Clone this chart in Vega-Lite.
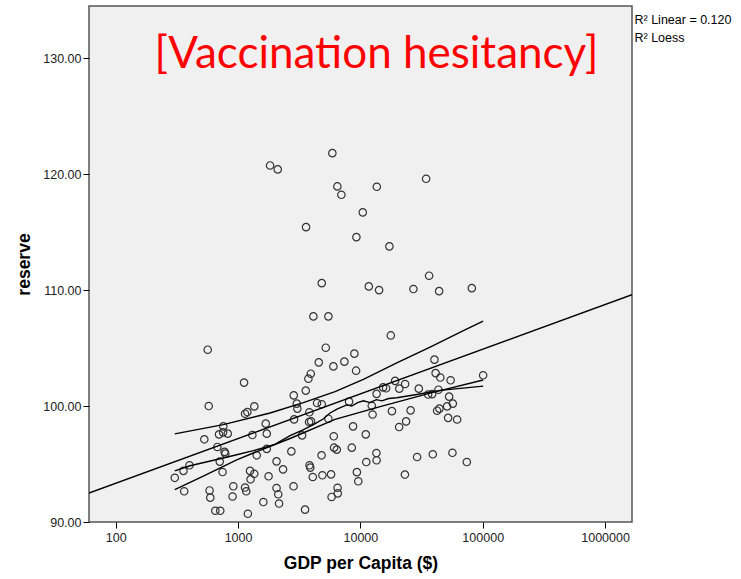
{
  "$schema": "https://vega.github.io/schema/vega-lite/v6.json",
  "width": 543,
  "height": 516,
  "autosize": "none",
  "padding": {"left": 89, "top": 6, "right": 109, "bottom": 57},
  "background": "#ffffff",
  "title": {"text": "[Vaccination hesitancy]", "color": "#ff0000", "font": "Lato", "fontSize": 44, "fontWeight": "normal", "anchor": "middle", "dx": 16, "offset": -106, "baseline": "alphabetic"},
  "config": {
    "view": {"fill": "#f0f0f0", "stroke": "#555555", "strokeWidth": 1.5},
    "axis": {"grid": false, "domain": false, "tickColor": "#000000", "tickSize": 6, "labelFont": "Liberation Sans", "labelFontSize": 12.5, "labelColor": "#222222", "labelFlush": false, "labelOverlap": false, "titleFont": "Liberation Sans", "titleFontSize": 17.5, "titleFontWeight": "bold", "titleColor": "#000000"}
  },
  "datasets": {
    "points": [
      {"gdp":5900,"reserve":121.81},{"gdp":1827,"reserve":120.75},{"gdp":2111,"reserve":120.41},{"gdp":6484,"reserve":118.94},{"gdp":6992,"reserve":118.22},{"gdp":13620,"reserve":118.91},{"gdp":34450,"reserve":119.6},{"gdp":10460,"reserve":116.7},{"gdp":3597,"reserve":115.43},{"gdp":9275,"reserve":114.57},{"gdp":17270,"reserve":113.77},{"gdp":4834,"reserve":110.6},{"gdp":11720,"reserve":110.32},{"gdp":14220,"reserve":110.0},{"gdp":27130,"reserve":110.09},{"gdp":36450,"reserve":111.24},{"gdp":44000,"reserve":109.91},{"gdp":81450,"reserve":110.17},
      {"gdp":4128,"reserve":107.73},{"gdp":5475,"reserve":107.73},{"gdp":565,"reserve":104.86},{"gdp":5213,"reserve":105.03},{"gdp":4568,"reserve":103.77},{"gdp":7400,"reserve":103.83},{"gdp":8930,"reserve":104.52},{"gdp":6015,"reserve":103.42},{"gdp":9222,"reserve":103.05},{"gdp":1120,"reserve":102.02},{"gdp":3930,"reserve":102.79},{"gdp":3757,"reserve":102.36},{"gdp":3577,"reserve":101.33},{"gdp":2853,"reserve":100.92},{"gdp":576,"reserve":100.0},{"gdp":1141,"reserve":99.34},{"gdp":1191,"reserve":99.48},{"gdp":1359,"reserve":99.97},{"gdp":3020,"reserve":100.21},{"gdp":3054,"reserve":99.78},{"gdp":4425,"reserve":100.26},{"gdp":4834,"reserve":100.15},{"gdp":8083,"reserve":100.38},{"gdp":3828,"reserve":99.46},{"gdp":5475,"reserve":98.91},{"gdp":2870,"reserve":98.85},{"gdp":3807,"reserve":98.62},{"gdp":3953,"reserve":98.68},{"gdp":758,"reserve":98.25},{"gdp":699,"reserve":97.56},{"gdp":754,"reserve":97.73},{"gdp":824,"reserve":97.62},{"gdp":1685,"reserve":98.48},{"gdp":1717,"reserve":97.62},{"gdp":1309,"reserve":97.5},{"gdp":3337,"reserve":97.47},{"gdp":8714,"reserve":98.25},{"gdp":6060,"reserve":97.39},{"gdp":11070,"reserve":97.56},{"gdp":530,"reserve":97.13},{"gdp":677,"reserve":96.47},{"gdp":776,"reserve":96.05},{"gdp":787,"reserve":95.9},{"gdp":1717,"reserve":96.31},{"gdp":1422,"reserve":95.75},{"gdp":6095,"reserve":96.41},{"gdp":6412,"reserve":96.24},{"gdp":8505,"reserve":96.41},{"gdp":2728,"reserve":96.09},{"gdp":4817,"reserve":95.75},{"gdp":709,"reserve":95.21},{"gdp":401,"reserve":94.89},{"gdp":358,"reserve":94.41},{"gdp":304,"reserve":93.81},{"gdp":747,"reserve":94.31},{"gdp":2064,"reserve":95.23},{"gdp":2333,"reserve":94.54},{"gdp":1253,"reserve":94.41},{"gdp":1357,"reserve":94.16},{"gdp":1265,"reserve":93.68},{"gdp":1776,"reserve":93.94},{"gdp":3842,"reserve":94.89},{"gdp":3895,"reserve":94.69},{"gdp":4082,"reserve":93.88},{"gdp":4890,"reserve":94.03},{"gdp":5760,"reserve":94.11},{"gdp":9363,"reserve":94.3},{"gdp":9612,"reserve":93.51},{"gdp":11170,"reserve":95.17},{"gdp":363,"reserve":92.65},{"gdp":585,"reserve":92.72},{"gdp":593,"reserve":92.1},{"gdp":915,"reserve":93.08},{"gdp":902,"reserve":92.2},{"gdp":1141,"reserve":92.97},{"gdp":1167,"reserve":92.65},{"gdp":2064,"reserve":92.93},{"gdp":2132,"reserve":92.39},{"gdp":2164,"reserve":91.59},{"gdp":1610,"reserve":91.72},{"gdp":2843,"reserve":93.08},{"gdp":6510,"reserve":92.95},{"gdp":6535,"reserve":92.47},{"gdp":5815,"reserve":92.16},{"gdp":652,"reserve":90.97},{"gdp":715,"reserve":90.97},{"gdp":1203,"reserve":90.71},{"gdp":3530,"reserve":91.07},
      {"gdp":17730,"reserve":106.09},{"gdp":40290,"reserve":104.0},{"gdp":41200,"reserve":102.84},{"gdp":45010,"reserve":102.46},{"gdp":54640,"reserve":102.22},{"gdp":100800,"reserve":102.65},{"gdp":19220,"reserve":102.17},{"gdp":23210,"reserve":101.9},{"gdp":20800,"reserve":101.5},{"gdp":15330,"reserve":101.61},{"gdp":16230,"reserve":101.53},{"gdp":30030,"reserve":101.5},{"gdp":35780,"reserve":100.99},{"gdp":38580,"reserve":101.03},{"gdp":43440,"reserve":101.41},{"gdp":53120,"reserve":100.81},{"gdp":56960,"reserve":100.21},{"gdp":51160,"reserve":99.97},{"gdp":42380,"reserve":99.6},{"gdp":44250,"reserve":99.78},{"gdp":13570,"reserve":101.05},{"gdp":12390,"reserve":100.02},{"gdp":12580,"reserve":99.27},{"gdp":18100,"reserve":99.56},{"gdp":25730,"reserve":99.63},{"gdp":20730,"reserve":98.19},{"gdp":23640,"reserve":98.68},{"gdp":52130,"reserve":98.98},{"gdp":61770,"reserve":98.84},{"gdp":13520,"reserve":95.95},{"gdp":13570,"reserve":95.32},{"gdp":29080,"reserve":95.6},{"gdp":39080,"reserve":95.84},{"gdp":56530,"reserve":95.97},{"gdp":74130,"reserve":95.17},{"gdp":23120,"reserve":94.09}
    ],
    "bands": [
      {"band":"upper","gdp":304,"reserve":97.6},{"band":"upper","gdp":758,"reserve":98.4},{"band":"upper","gdp":1827,"reserve":99.4},{"band":"upper","gdp":3420,"reserve":100.29},{"band":"upper","gdp":6209,"reserve":101.25},{"band":"upper","gdp":10580,"reserve":102.3},{"band":"upper","gdp":19840,"reserve":103.72},{"band":"upper","gdp":37150,"reserve":105.09},{"band":"upper","gdp":69500,"reserve":106.5},{"band":"upper","gdp":100800,"reserve":107.33},
      {"band":"lower","gdp":304,"reserve":92.8},{"band":"lower","gdp":520,"reserve":93.95},{"band":"lower","gdp":975,"reserve":95.35},{"band":"lower","gdp":1334,"reserve":95.95},{"band":"lower","gdp":2661,"reserve":97.2},{"band":"lower","gdp":6209,"reserve":98.85},{"band":"lower","gdp":14490,"reserve":99.95},{"band":"lower","gdp":37150,"reserve":101.12},{"band":"lower","gdp":100800,"reserve":102.25}
    ],
    "fits": [
      {"series":"R² Linear = 0.120","gdp":60.5,"reserve":92.5},{"series":"R² Linear = 0.120","gdp":1660000,"reserve":109.6},
      {"series":"R² Loess","gdp":304,"reserve":94.41},{"series":"R² Loess","gdp":405,"reserve":94.85},{"series":"R² Loess","gdp":713,"reserve":95.45},{"series":"R² Loess","gdp":975,"reserve":95.8},{"series":"R² Loess","gdp":1334,"reserve":96.15},{"series":"R² Loess","gdp":2000,"reserve":96.7},{"series":"R² Loess","gdp":2661,"reserve":97.45},{"series":"R² Loess","gdp":3400,"reserve":97.95},{"series":"R² Loess","gdp":4200,"reserve":98.45},{"series":"R² Loess","gdp":5000,"reserve":98.9},{"series":"R² Loess","gdp":5650,"reserve":99.4},{"series":"R² Loess","gdp":6500,"reserve":99.75},{"series":"R² Loess","gdp":7745,"reserve":100.1},{"series":"R² Loess","gdp":8500,"reserve":100.0},{"series":"R² Loess","gdp":9500,"reserve":100.3},{"series":"R² Loess","gdp":10580,"reserve":100.45},{"series":"R² Loess","gdp":12000,"reserve":100.3},{"series":"R² Loess","gdp":13500,"reserve":100.55},{"series":"R² Loess","gdp":15000,"reserve":100.45},{"series":"R² Loess","gdp":17000,"reserve":100.65},{"series":"R² Loess","gdp":19840,"reserve":100.72},{"series":"R² Loess","gdp":28900,"reserve":101.0},{"series":"R² Loess","gdp":44840,"reserve":101.35},{"series":"R² Loess","gdp":100800,"reserve":101.72}
    ]
  },
  "encoding": {
    "x": {"field": "gdp", "type": "quantitative", "scale": {"type": "log", "domain": [60.5, 1660000], "nice": false}, "axis": {"values": [100, 1000, 10000, 100000, 1000000], "format": "d", "title": "GDP per Capita ($)", "labelPadding": 3, "titlePadding": 11}},
    "y": {"field": "reserve", "type": "quantitative", "scale": {"domain": [90, 134.5], "nice": false, "zero": false}, "axis": {"values": [90, 100, 110, 120, 130], "format": ".2f", "title": "reserve", "labelPadding": 2, "titlePadding": 9}}
  },
  "layer": [
    {"data": {"name": "points"}, "mark": {"type": "point", "shape": "circle", "filled": false, "size": 55, "stroke": "#333333", "strokeWidth": 1.2, "opacity": 1}},
    {"data": {"name": "bands"}, "mark": {"type": "line", "color": "#000000", "strokeWidth": 1.4, "clip": true}, "encoding": {"detail": {"field": "band"}}},
    {"data": {"name": "fits"}, "mark": {"type": "line", "strokeWidth": 1.4, "clip": true}, "encoding": {"stroke": {"field": "series", "type": "nominal", "scale": {"domain": ["R² Linear = 0.120", "R² Loess"], "range": ["#000000", "#000000"]}, "legend": {"title": null, "orient": "none", "legendX": 533, "legendY": 8, "symbolSize": 0, "symbolStrokeWidth": 0, "labelFont": "Liberation Sans", "labelFontSize": 12.5, "labelColor": "#000000", "labelOffset": 0, "rowPadding": 5, "padding": 0}}}}
  ]
}
